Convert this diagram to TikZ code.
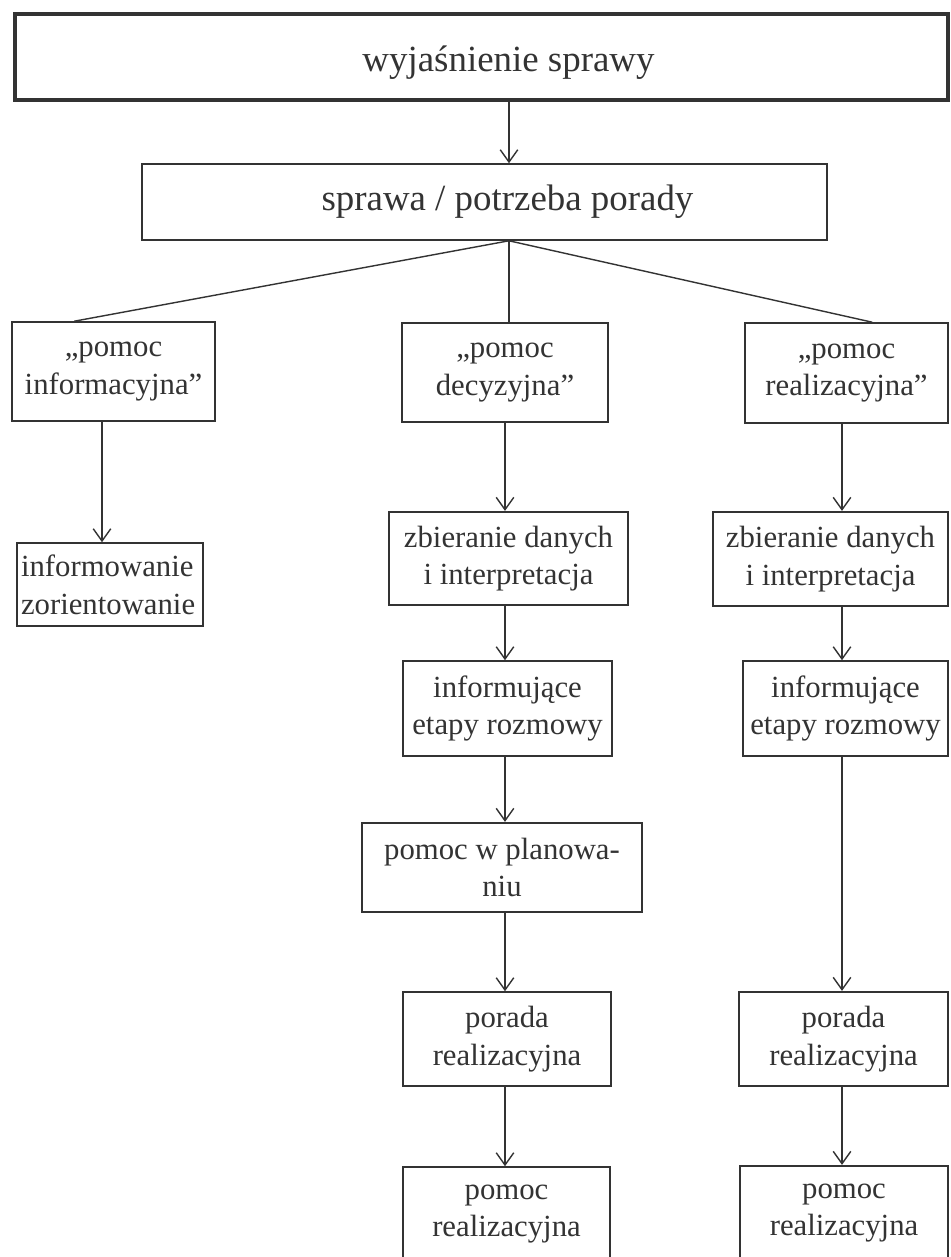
\documentclass[tikz,border=0pt]{standalone}
\usepackage{fontspec}
\setmainfont{Liberation Serif}
\usetikzlibrary{arrows.meta,calc}
\definecolor{ink}{HTML}{333333}
\tikzset{
  box/.style={draw=ink, line width=0.9pt, inner sep=0pt, align=center, text=ink,
    font=\fontsize{17.5}{21.5}\selectfont},
  boxb/.style={box, line width=1.3pt},
  bigtext/.style={font=\fontsize{21}{25}\selectfont},
  conn/.style={draw=ink, line width=0.8pt},
  arr/.style={conn, -{Straight Barb[length=7pt,width=10pt,line width=0.8pt]}},
}
\begin{document}
\begin{tikzpicture}[x=0.02cm,y=-0.02cm]
\useasboundingbox (0,0) rectangle (950,1257);
\clip (0,0) rectangle (950,1257);
\fill[white] (0,0) rectangle (950,1257);

% top
\node[box, bigtext, line width=2.3pt, minimum width=18.66cm, minimum height=1.72cm,
  text height=17pt, text depth=0pt] (tbox) at (481.5,57) {\hspace*{1.08cm}wyjaśnienie sprawy};
\node[box, bigtext, minimum width=13.7cm, minimum height=1.52cm] (sbox) at (484.5,202) {\hspace*{0.92cm}sprawa / potrzeba porady};

% level 2
\node[box, minimum width=4.06cm, minimum height=1.98cm] (lbox) at (113.5,371.5) {„pomoc\\informacyjna”};
\node[box, minimum width=4.12cm, minimum height=1.98cm] (mbox) at (505,372.5) {„pomoc\\decyzyjna”};
\node[box, minimum width=4.06cm, minimum height=2.0cm] (rbox) at (846.5,373) {„pomoc\\realizacyjna”};

% left column
\node[box, align=left, inner xsep=0.08cm, text width=3.56cm, minimum height=1.66cm] (info) at (110,584.5) {informowanie\\zorientowanie};

% middle column
\node[boxb, minimum width=4.78cm, minimum height=1.86cm] (mzb) at (508.5,558.5) {zbieranie danych\\i interpretacja};
\node[box, minimum width=4.18cm, minimum height=1.90cm] (minf) at (507.5,708.5) {informujące\\etapy rozmowy};
\node[boxb, minimum width=5.60cm, minimum height=1.78cm] (plan) at (502,867.5) {pomoc w planowa-\\niu};
\node[box, minimum width=4.16cm, minimum height=1.88cm] (mpor) at (507,1039) {porada\\realizacyjna};
\node[box, minimum width=4.14cm, minimum height=1.88cm] (mpom) at (506.5,1214) {pomoc\\realizacyjna};

% right column
\node[boxb, minimum width=4.70cm, minimum height=1.88cm] (rzb) at (830.5,559) {zbieranie danych\\i interpretacja};
\node[box, minimum width=4.10cm, minimum height=1.90cm] (rinf) at (845.5,708.5) {informujące\\etapy rozmowy};
\node[boxb, minimum width=4.18cm, minimum height=1.88cm] (rpor) at (843.5,1039) {porada\\realizacyjna};
\node[boxb, minimum width=4.16cm, minimum height=1.88cm] (rpom) at (844,1213) {pomoc\\realizacyjna};

% connector columns
\coordinate (xT) at (509,0);
\coordinate (xL) at (102,0);
\coordinate (xM) at (505,0);
\coordinate (xR) at (842,0);

\draw[arr] (tbox.south -| xT) -- (sbox.north -| xT);
\draw[conn] (sbox.south -| xT) -- ($(lbox.north west)+(63,0)$);
\draw[conn] (sbox.south -| xT) -- (mbox.north -| xT);
\draw[conn] (sbox.south -| xT) -- ($(rbox.north west)+(128,0)$);

\draw[arr] (lbox.south -| xL) -- (info.north -| xL);

\draw[arr] (mbox.south -| xM) -- (mzb.north -| xM);
\draw[arr] (mzb.south -| xM) -- (minf.north -| xM);
\draw[arr] (minf.south -| xM) -- (plan.north -| xM);
\draw[arr] (plan.south -| xM) -- (mpor.north -| xM);
\draw[arr] (mpor.south -| xM) -- (mpom.north -| xM);

\draw[arr] (rbox.south -| xR) -- (rzb.north -| xR);
\draw[arr] (rzb.south -| xR) -- (rinf.north -| xR);
\draw[arr] (rinf.south -| xR) -- (rpor.north -| xR);
\draw[arr] (rpor.south -| xR) -- (rpom.north -| xR);
\end{tikzpicture}
\end{document}
